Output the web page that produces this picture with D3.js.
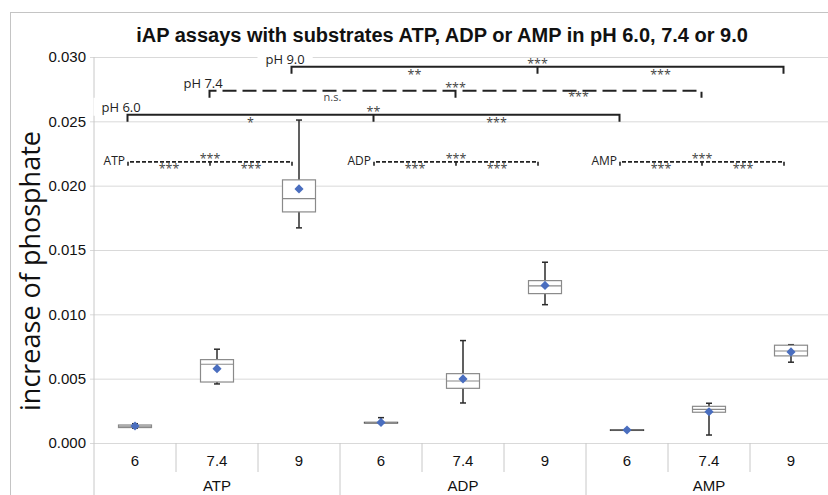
<!DOCTYPE html>
<html>
<head>
<meta charset="utf-8">
<script src="https://cdn.jsdelivr.net/npm/d3@7"></script>
<style>
  body { margin: 0; background: #fff; }
  svg { display: block; }
</style>
</head>
<body>
<div id="chart"></div>
<script>
/* iAP box plots: ATP, ADP, AMP at three pH values */

const width = 828, height = 495,
    margin = ({ top: 57, right: -4, bottom: 52, left: 94 });

/* data */
const groups = ["ATP", "ADP", "AMP"];
const phs = ["6", "7.4", "9"];
const whiskerLow  = [0.00115, 0.00459, 0.01672, 0.00155, 0.00311, 0.01075, 0.00099, 0.00062, 0.00628];
const q1          = [0.00120, 0.00474, 0.01796, 0.00158, 0.00425, 0.01161, 0.00101, 0.00239, 0.00677];
const medians     = [0.00130, 0.00612, 0.01900, 0.00158, 0.00482, 0.01221, 0.00101, 0.00262, 0.00715];
const q3          = [0.00140, 0.00648, 0.02045, 0.00160, 0.00539, 0.01262, 0.00102, 0.00285, 0.00760];
const whiskerHigh = [0.00150, 0.00729, 0.02510, 0.00197, 0.00796, 0.01405, 0.00104, 0.00309, 0.00764];
const means       = [0.00132, 0.00578, 0.01975, 0.00160, 0.00498, 0.01225, 0.00101, 0.00243, 0.00708];
const yTicks = [0, 0.005, 0.01, 0.015, 0.02, 0.025, 0.03];

/* significance brackets across substrates, one per pH */
const phBracketLabels = ["pH 6.0", "pH 7.4", "pH 9.0"];
const phBracketLevels = [0.02551, 0.02737, 0.02924];
const phStarsLeft  = ["*", "n.s.", "**"];    // ATP vs ADP
const phStarsRight = ["***", "***", "***"];  // ADP vs AMP
const phStarsOuter = ["**", "***", "***"];   // ATP vs AMP

/* brackets inside each substrate */
const groupBracketLevel = 0.02185;
const groupStarsLeft  = ["***", "***", "***"];  // 6 vs 7.4
const groupStarsRight = ["***", "***", "***"];  // 7.4 vs 9
const groupStarsOuter = ["***", "***", "***"];  // 6 vs 9

const title = "iAP assays with substrates ATP, ADP or AMP in pH 6.0, 7.4 or 9.0";
const yLabel = "increase of phosphate";

/* build the rows */
let rows = [];
groups.forEach((g, gi) => phs.forEach((p, pi) => {
    let i = gi * 3 + pi;
    rows.push({ key: g + " " + p, group: g, ph: p,
        lo: whiskerLow[i], q1: q1[i], med: medians[i], q3: q3[i], hi: whiskerHigh[i], mean: means[i] });
}));

const svg = d3.select("#chart")
    .append("svg")
    .attr("width", width)
    .attr("height", height);

/* outer frame */
svg.append("rect")
    .attr("x", 10.5).attr("y", 12.5)
    .attr("width", 840).attr("height", 520)
    .attr("fill", "none")
    .attr("stroke", "#c4c4c4");

let x = d3.scaleBand()
    .domain(rows.map(d => d.key))
    .range([margin.left, width - margin.right])
    .padding(0);

let y = d3.scaleLinear()
    .domain([0, 0.03])
    .range([height - margin.bottom, margin.top]);

const bw = x.bandwidth();
const cx = key => x(key) + bw / 2;
const xTop = width - margin.right;

/* gridlines + y labels */
svg.append("g")
    .attr("transform", `translate(${margin.left - 4},0)`)
    .call(d3.axisLeft(y).tickValues(yTicks).tickFormat(d3.format(".3f"))
        .tickSizeInner(-(xTop - margin.left + 4)).tickSizeOuter(0).tickPadding(4))
    .call(g => g.select(".domain").remove())
    .call(g => g.selectAll(".tick line").attr("stroke", "#d9d9d9"))
    .call(g => g.selectAll(".tick text")
        .attr("font-family", "Liberation Sans, Arial, sans-serif")
        .attr("font-size", 15).attr("fill", "#111"));

/* left axis line */
svg.append("line")
    .attr("x1", margin.left).attr("x2", margin.left)
    .attr("y1", y(0.03)).attr("y2", height)
    .attr("stroke", "#c8c8c8");

/* x axis: pH labels */
svg.append("g")
    .attr("transform", `translate(0,${y(0)})`)
    .call(d3.axisBottom(x).tickSize(0).tickPadding(12).tickFormat(k => k.split(" ")[1]))
    .call(g => g.select(".domain").remove())
    .call(g => g.selectAll(".tick text")
        .attr("font-family", "Liberation Sans, Arial, sans-serif")
        .attr("font-size", 15).attr("fill", "#111"));

/* category separators */
svg.append("g").selectAll("line")
    .data(rows.slice(1))
    .join("line")
    .attr("x1", d => x(d.key)).attr("x2", d => x(d.key))
    .attr("y1", y(0))
    .attr("y2", d => d.ph === phs[0] ? height : y(0) + 29)
    .attr("stroke", "#c8c8c8");

/* group labels */
svg.append("g").selectAll("text")
    .data(groups)
    .join("text")
    .attr("x", g => cx(g + " " + phs[1]))
    .attr("y", y(0) + 48)
    .attr("text-anchor", "middle")
    .attr("font-family", "Liberation Sans, Arial, sans-serif")
    .attr("font-size", 15).attr("fill", "#111")
    .text(g => g);

/* title */
svg.append("text")
    .attr("x", 442).attr("y", 42)
    .attr("text-anchor", "middle")
    .attr("font-family", "Liberation Sans, Arial, sans-serif")
    .attr("font-weight", "bold")
    .attr("font-size", 20).attr("fill", "#111")
    .text(title);

/* y title */
svg.append("text")
    .attr("transform", `translate(40,${271}) rotate(-90)`)
    .attr("text-anchor", "middle")
    .attr("font-family", "Open Sans, sans-serif")
    .attr("font-size", 27).attr("fill", "#111")
    .text(yLabel);

/* boxes */
const boxW = 33, capW = 6;
let box = svg.append("g").selectAll("g")
    .data(rows)
    .join("g");

box.append("line")
    .attr("x1", d => cx(d.key)).attr("x2", d => cx(d.key))
    .attr("y1", d => y(d.hi)).attr("y2", d => y(d.lo))
    .attr("stroke", "#2b2b2b").attr("stroke-width", 1.5);

box.append("line")
    .attr("x1", d => cx(d.key) - capW / 2).attr("x2", d => cx(d.key) + capW / 2)
    .attr("y1", d => y(d.hi)).attr("y2", d => y(d.hi))
    .attr("stroke", "#2b2b2b").attr("stroke-width", 1.5);

box.append("line")
    .attr("x1", d => cx(d.key) - capW / 2).attr("x2", d => cx(d.key) + capW / 2)
    .attr("y1", d => y(d.lo)).attr("y2", d => y(d.lo))
    .attr("stroke", "#2b2b2b").attr("stroke-width", 1.5);

box.append("rect")
    .attr("x", d => cx(d.key) - boxW / 2)
    .attr("y", d => y(d.q3))
    .attr("width", boxW)
    .attr("height", d => Math.max(y(d.q1) - y(d.q3), 0.5))
    .attr("fill", "#fff")
    .attr("stroke", d => y(d.q1) - y(d.q3) < 1 ? "#2b2b2b" : "#8a8a8a")
    .attr("stroke-width", d => y(d.q1) - y(d.q3) < 1 ? 1.3 : 1.2);

box.append("line")
    .attr("x1", d => cx(d.key) - boxW / 2).attr("x2", d => cx(d.key) + boxW / 2)
    .attr("y1", d => y(d.med)).attr("y2", d => y(d.med))
    .attr("stroke", "#8a8a8a").attr("stroke-width", 1.2);

box.append("path")
    .attr("d", d3.symbol(d3.symbolSquare, 42))
    .attr("transform", d => `translate(${cx(d.key)},${y(d.mean)}) rotate(45)`)
    .attr("fill", "#4a6ebf");

/* bracket helper */
const annFont = "Open Sans, sans-serif";
function bracket(g, xs, level, tick, stroke, dash, sw, stars, starDy) {
    let yl = y(level);
    g.append("path")
        .attr("d", `M${xs[0]},${yl + tick}V${yl}H${xs[2]}V${yl + tick}M${xs[1]},${yl}V${yl + tick}`)
        .attr("fill", "none")
        .attr("stroke", stroke).attr("stroke-width", sw)
        .attr("stroke-dasharray", dash);
    // below-line stars between neighbours, outer one above middle tick
    [[(xs[0] + xs[1]) / 2, yl + starDy[0], stars[0]],
     [(xs[1] + xs[2]) / 2, yl + starDy[0], stars[1]],
     [xs[1], yl + starDy[1], stars[2]]].forEach(s => {
        g.append("text")
            .attr("x", s[0]).attr("y", s[1])
            .attr("text-anchor", "middle")
            .attr("font-family", annFont)
            .attr("font-size", s[2] === "n.s." ? 11 : 12.5)
            .attr("fill", "#444")
            .text(s[2]);
    });
}

/* brackets across substrates */
const phDash = ["none", "14,6", "none"];
phs.forEach((p, i) => {
    let g = svg.append("g");
    let xs = groups.map(gr => cx(gr + " " + p) - 7.5);
    let yl = y(phBracketLevels[i]);
    let lbl = g.append("text")
        .attr("x", xs[0] - 26).attr("y", yl - 3)
        .attr("font-family", annFont)
        .attr("font-size", 13).attr("fill", "#222")
        .text(phBracketLabels[i]);
    let bb = lbl.node().getBBox();
    g.insert("rect", "text")
        .attr("x", bb.x - 8).attr("y", bb.y)
        .attr("width", bb.width + 16).attr("height", bb.height)
        .attr("fill", "#fff");
    bracket(g, xs, phBracketLevels[i], 7, "#222", phDash[i], 2,
        [phStarsLeft[i], phStarsRight[i], phStarsOuter[i]], [p === "7.4" ? 10 : 12, 1]);
});

/* brackets inside substrates */
groups.forEach((gr, i) => {
    let g = svg.append("g");
    let xs = phs.map(p => cx(gr + " " + p) - 7);
    let yl = y(groupBracketLevel);
    g.append("text")
        .attr("x", xs[0] - 3).attr("y", yl + 3)
        .attr("text-anchor", "end")
        .attr("font-family", annFont)
        .attr("font-size", 12).attr("fill", "#222")
        .text(gr);
    bracket(g, xs, groupBracketLevel, 4, "#222", "4,2", 1.6,
        [groupStarsLeft[i], groupStarsRight[i], groupStarsOuter[i]], [11, 1]);
});
</script>
</body>
</html>
